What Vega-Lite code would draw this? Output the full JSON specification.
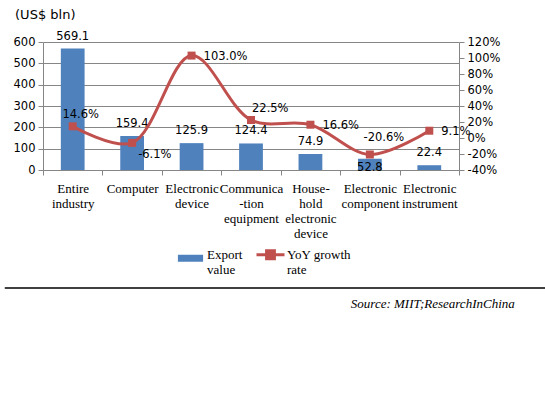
{
  "$schema": "https://vega.github.io/schema/vega-lite/v6.json",
  "background": "white",
  "padding": {"left": 4, "top": 8, "right": 0, "bottom": 0},
  "spacing": 47,
  "config": {
    "view": {"stroke": null},
    "font": "DejaVu Sans",
    "locale": {"number": {"decimal": ".", "thousands": ",", "grouping": [3], "currency": ["$", ""], "minus": "-"}}
  },
  "vconcat": [
    {
      "width": 416,
      "height": 128,
      "title": {"text": "(US$ bln)", "anchor": "start", "frame": "bounds", "font": "DejaVu Sans", "fontSize": 13, "fontWeight": "normal", "color": "black", "dx": 2, "offset": 9},
      "data": {"values": [
        {"category": "Entire industry", "export": 569.1, "growth": 0.146},
        {"category": "Computer", "export": 159.4, "growth": -0.061},
        {"category": "Electronic device", "export": 125.9, "growth": 1.03},
        {"category": "Communication equipment", "export": 124.4, "growth": 0.225},
        {"category": "Household electronic device", "export": 74.9, "growth": 0.166},
        {"category": "Electronic component", "export": 52.8, "growth": -0.206},
        {"category": "Electronic instrument", "export": 22.4, "growth": 0.091}
      ]},
      "encoding": {
        "x": {
          "field": "category", "type": "nominal", "sort": null,
          "scale": {"paddingInner": 0, "paddingOuter": 0},
          "axis": {
            "title": null, "labelAngle": 0, "labelAlign": "center", "labelBaseline": "top",
            "labelFont": "Liberation Serif, Times New Roman, serif", "labelFontSize": 13, "labelColor": "black",
            "labelLineHeight": 15, "labelPadding": 7, "labelOffset": 0, "labelLimit": 0, "labelOverlap": false, "labelBound": false,
            "ticks": true, "tickBand": "extent", "tickSize": 5, "tickColor": "#868686",
            "domainColor": "#868686", "grid": false,
            "labelExpr": "{'Entire industry': ['Entire', 'industry'], 'Computer': ['Computer'], 'Electronic device': ['Electronic', 'device'], 'Communication equipment': ['Communica', '-tion', 'equipment'], 'Household electronic device': ['House-', 'hold', 'electronic', 'device'], 'Electronic component': ['Electronic', 'component'], 'Electronic instrument': ['Electronic', 'instrument']}[datum.label]"
          }
        }
      },
      "layer": [
        {
          "encoding": {
            "y": {
              "field": "export", "type": "quantitative",
              "scale": {"domain": [0, 600], "nice": false},
              "axis": {"orient": "left", "title": null, "values": [0, 100, 200, 300, 400, 500, 600], "grid": true, "gridColor": "#868686", "domainColor": "#868686", "tickColor": "#868686", "tickSize": 5, "labelFontSize": 11.5, "labelColor": "black", "labelPadding": 3}
            }
          },
          "layer": [
            {
              "mark": {"type": "bar", "width": {"band": 0.4}},
              "encoding": {
                "color": {
                  "datum": "Export value", "type": "nominal",
                  "scale": {"domain": ["Export value", "YoY growth rate"], "range": ["#4F81BD", "#C0504D"]},
                  "legend": {
                    "orient": "none", "legendX": 141, "legendY": 206, "direction": "horizontal", "title": null, "padding": 0,
                    "symbolSize": 784, "symbolStrokeWidth": 3, "labelOffset": 10, "columnPadding": 7,
                    "labelFont": "Liberation Serif, Times New Roman, serif", "labelFontSize": 13, "labelColor": "black", "labelLimit": 0,
                    "labelExpr": "datum.label == 'Export value' ? ['Export', 'value'] : ['YoY growth', 'rate']",
                    "encode": {
                      "symbols": {"update": {
                        "shape": {"signal": "datum.value == 'Export value' ? 'M-0.9,0H0.9V0.5H-0.9Z' : 'M-1,0H1M-0.28,-0.28H0.28V0.28H-0.28Z'"},
                        "fill": {"signal": "datum.value == 'Export value' ? '#4F81BD' : '#C0504D'"},
                        "stroke": {"signal": "datum.value == 'Export value' ? '#4F81BD' : '#C0504D'"},
                        "strokeWidth": {"signal": "datum.value == 'Export value' ? 0 : 3"},
                        "opacity": {"value": 1},
                        "fillOpacity": {"value": 1}
                      }},
                      "labels": {"update": {"lineHeight": {"value": 15}}}
                    }
                  }
                }
              }
            },
            {
              "transform": [{"filter": "datum.category != 'Electronic component'"}],
              "mark": {"type": "text", "dy": -9, "baseline": "alphabetic", "fontSize": 11.5, "color": "black"},
              "encoding": {"text": {"field": "export", "type": "quantitative", "format": ".1f"}}
            },
            {
              "transform": [{"filter": "datum.category == 'Electronic component'"}],
              "mark": {"type": "text", "dy": 12, "baseline": "alphabetic", "fontSize": 11.5, "color": "black"},
              "encoding": {"text": {"field": "export", "type": "quantitative", "format": ".1f"}}
            }
          ]
        },
        {
          "encoding": {
            "y": {
              "field": "growth", "type": "quantitative",
              "scale": {"domain": [-0.4, 1.2], "nice": false},
              "axis": {"orient": "right", "title": null, "values": [-0.4, -0.2, 0, 0.2, 0.4, 0.6, 0.8, 1, 1.2], "format": ".0%", "grid": false, "domainColor": "#868686", "tickColor": "#868686", "tickSize": 5, "labelFontSize": 11.5, "labelColor": "black", "labelPadding": 3}
            }
          },
          "layer": [
            {
              "mark": {"type": "line", "interpolate": "catmull-rom", "strokeWidth": 3},
              "encoding": {"color": {"datum": "YoY growth rate", "type": "nominal"}}
            },
            {
              "mark": {"type": "point", "shape": "square", "filled": true, "size": 64, "opacity": 1, "color": "#C0504D"}
            },
            {
              "transform": [{"filter": {"field": "category", "oneOf": ["Electronic device", "Household electronic device", "Electronic instrument"]}}],
              "mark": {"type": "text", "align": "left", "baseline": "middle", "dx": 12, "dy": 1, "fontSize": 11.5, "color": "black"},
              "encoding": {"text": {"field": "growth", "type": "quantitative", "format": ".1%"}}
            },
            {
              "transform": [{"filter": {"field": "category", "oneOf": ["Entire industry"]}}],
              "mark": {"type": "text", "align": "center", "baseline": "middle", "dx": 8, "dy": -11, "fontSize": 11.5, "color": "black"},
              "encoding": {"text": {"field": "growth", "type": "quantitative", "format": ".1%"}}
            },
            {
              "transform": [{"filter": {"field": "category", "oneOf": ["Computer"]}}],
              "mark": {"type": "text", "align": "left", "baseline": "middle", "dx": 6, "dy": 12, "fontSize": 11.5, "color": "black"},
              "encoding": {"text": {"field": "growth", "type": "quantitative", "format": ".1%"}}
            },
            {
              "transform": [{"filter": {"field": "category", "oneOf": ["Communication equipment"]}}],
              "mark": {"type": "text", "align": "left", "baseline": "middle", "dx": 1, "dy": -11, "fontSize": 11.5, "color": "black"},
              "encoding": {"text": {"field": "growth", "type": "quantitative", "format": ".1%"}}
            },
            {
              "transform": [{"filter": {"field": "category", "oneOf": ["Electronic component"]}}],
              "mark": {"type": "text", "align": "center", "baseline": "middle", "dx": 14, "dy": -16, "fontSize": 11.5, "color": "black"},
              "encoding": {"text": {"field": "growth", "type": "quantitative", "format": ".1%"}}
            }
          ]
        }
      ],
      "resolve": {"scale": {"y": "independent"}}
    },
    {
      "width": 503,
      "height": 8,
      "data": {"values": [{"from": -0.076, "to": 1}]},
      "mark": {"type": "rule", "color": "black", "strokeWidth": 1.5},
      "encoding": {
        "x": {"field": "from", "type": "quantitative", "scale": {"domain": [0, 1], "nice": false, "zero": false}, "axis": null},
        "x2": {"field": "to"},
        "y": {"datum": 1, "type": "quantitative", "scale": {"domain": [0, 1], "nice": false}, "axis": null}
      },
      "title": {"text": "Source: MIIT;ResearchInChina", "orient": "bottom", "anchor": "end", "font": "Liberation Serif, Times New Roman, serif", "fontStyle": "italic", "fontWeight": "normal", "fontSize": 13, "color": "black", "dx": -32, "offset": 2}
    }
  ]
}
